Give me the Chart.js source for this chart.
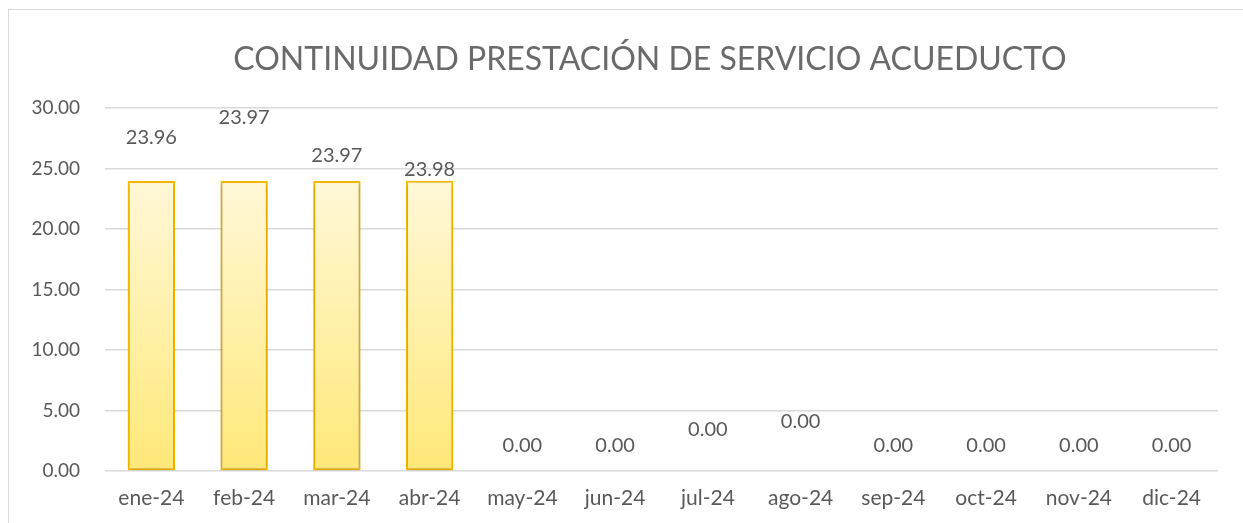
<!DOCTYPE html>
<html>
<head>
<meta charset="utf-8">
<script src="https://cdn.jsdelivr.net/npm/chart.js@4"></script>
<style>
  html, body { margin: 0; padding: 0; background: #fff; }
  #wrap { position: relative; width: 1243px; height: 523px; overflow: hidden; }
  #frame { position: absolute; left: 8px; top: 9px; width: 1300px; height: 600px; border: 1px solid #d9d9d9; }
  #chart { position: absolute; left: 0; top: 0; }
</style>
</head>
<body>
<div id="wrap">
  <div id="frame"></div>
  <canvas id="chart" width="1243" height="523"></canvas>
</div>
<script>
const months = ['ene-24', 'feb-24', 'mar-24', 'abr-24', 'may-24', 'jun-24', 'jul-24', 'ago-24', 'sep-24', 'oct-24', 'nov-24', 'dic-24'];
const hours = [23.96, 23.97, 23.97, 23.98, 0, 0, 0, 0, 0, 0, 0, 0];
const yTicks = [0, 5, 10, 15, 20, 25, 30];
const chartTitle = 'CONTINUIDAD PRESTACIÓN DE SERVICIO ACUEDUCTO';

// label offsets (px above the bar top) as placed in the original sheet
const labelLift = [44, 63, 25, 11, 25, 25, 41, 49, 25, 25, 25, 25];

const textGray = '#595959';
const font = 'Lato, "Open Sans", sans-serif';

// title sits a bit right of the canvas centre, like the Excel original
const sheetTitle = {
    id: 'sheetTitle',
    afterDraw(chart) {
        const ctx = chart.ctx;
        ctx.save();
        ctx.font = '32px ' + font;
        ctx.fillStyle = '#6a6a6a';
        ctx.textAlign = 'center';
        ctx.textBaseline = 'middle';
        ctx.fillText(chartTitle, 650, 60);
        ctx.restore();
    }
};

// draws the value labels above each bar
const valueLabels = {
    id: 'valueLabels',
    afterDatasetsDraw(chart) {
        const ctx = chart.ctx;
        const meta = chart.getDatasetMeta(0);
        ctx.save();
        ctx.font = '20px ' + font;
        ctx.fillStyle = textGray;
        ctx.textAlign = 'center';
        ctx.textBaseline = 'middle';
        meta.data.forEach((bar, i) => {
            ctx.fillText(hours[i].toFixed(2), bar.x, bar.y - labelLift[i]);
        });
        ctx.restore();
    }
};

// soft shadow around the bars
const barShadow = {
    id: 'barShadow',
    beforeDatasetsDraw(chart) {
        const ctx = chart.ctx;
        ctx.save();
        ctx.shadowColor = 'rgba(0,0,0,0.28)';
        ctx.shadowBlur = 4;
        ctx.shadowOffsetX = 0;
        ctx.shadowOffsetY = 1;
    },
    afterDatasetsDraw(chart) {
        chart.ctx.restore();
    }
};

function barGradient(context) {
    const chart = context.chart;
    if (!chart.chartArea) return '#fff2a0';
    const y = chart.scales.y;
    const v = context.raw || 0;
    const top = y.getPixelForValue(v);
    const bottom = y.getPixelForValue(0);
    if (bottom - top < 1) return '#ffe873';
    const g = chart.ctx.createLinearGradient(0, top, 0, bottom);
    g.addColorStop(0, '#fff8d8');
    g.addColorStop(0.5, '#fff0a8');
    g.addColorStop(1, '#ffe878');
    return g;
}

const ctx = document.getElementById('chart').getContext('2d');
new Chart(ctx, {
    type: 'bar',
    data: {
        labels: months,
        datasets: [{
            data: hours,
            backgroundColor: barGradient,
            borderColor: '#ffc000',
            borderWidth: 2,
            borderSkipped: false,
            barPercentage: 0.51,
            categoryPercentage: 1
        }]
    },
    options: {
        responsive: false,
        animation: false,
        layout: { padding: { left: 0, right: 25, top: 108, bottom: 0 } },
        plugins: {
            legend: { display: false },
            tooltip: { enabled: false },
            title: { display: false }
        },
        scales: {
            x: {
                grid: { display: false },
                border: { display: false },
                ticks: {
                    color: textGray,
                    font: { family: font, size: 21 },
                    padding: 7,
                    maxRotation: 0
                },
                afterFit(scale) { scale.height = 52; }
            },
            y: {
                min: 0,
                max: 30,
                afterBuildTicks(scale) { scale.ticks = yTicks.map(v => ({ value: v })); },
                grid: { color: '#d9d9d9', lineWidth: 1.5, drawTicks: false },
                border: { display: false },
                ticks: {
                    color: textGray,
                    font: { family: font, size: 19 },
                    padding: 25,
                    callback: v => Number(v).toFixed(2)
                },
                afterFit(scale) { scale.width = 105; }
            }
        }
    },
    plugins: [barShadow, valueLabels, sheetTitle]
});
</script>
</body>
</html>
